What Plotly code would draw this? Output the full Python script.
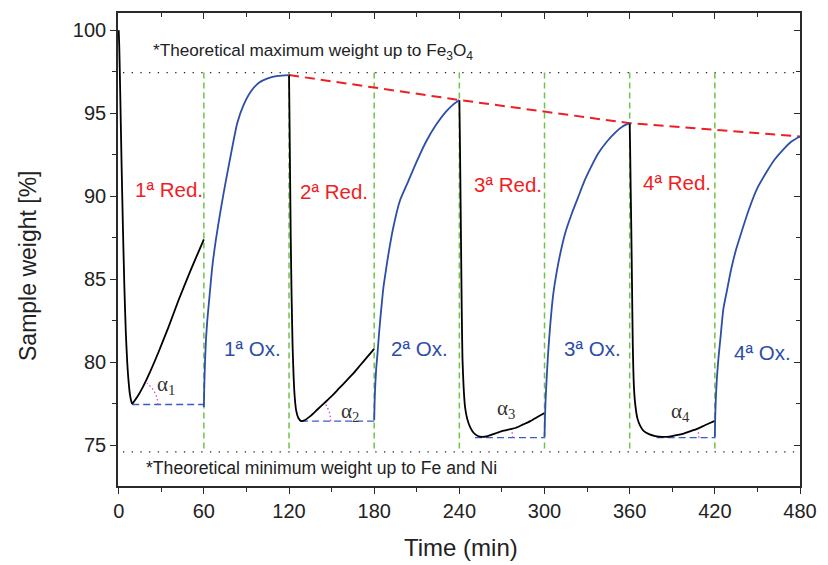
import numpy as np
import plotly.graph_objects as go

# ---------------- cycle data: time (min) vs sample weight (%) ----------------
red1_t = [0, 0.4, 1.0, 2.0, 3.0, 4.0, 5.0, 6.0, 7.0, 8.0, 9.0, 9.5, 10.5, 13, 17, 22, 28, 35, 42, 50, 55, 60]
red1_w = [100, 99.0, 96.5, 92.0, 88.0, 84.5, 81.8, 80.0, 78.8, 78.0, 77.6, 77.5, 77.6, 77.9, 78.5, 79.4, 80.6, 82.1, 83.7, 85.4, 86.4, 87.4]

ox1_t = [60, 60.3, 60.8, 61.5, 62.5, 64, 66, 68.5, 71.5, 75, 79, 83.5, 88, 93, 99, 105, 112, 120]
ox1_w = [77.3, 78.6, 80.0, 81.4, 82.6, 84.0, 85.8, 87.4, 89.0, 90.7, 92.5, 94.4, 95.5, 96.3, 96.85, 97.1, 97.25, 97.3]

red2_t = [120, 120.3, 120.7, 121.2, 121.8, 122.5, 123.2, 124, 125, 126.5, 128.5, 131, 135, 140, 145, 150, 155, 160, 165, 170, 175, 180]
red2_w = [97.3, 95.0, 91.5, 87.5, 84.0, 81.0, 79.2, 77.9, 77.1, 76.65, 76.45, 76.5, 76.75, 77.15, 77.55, 77.95, 78.4, 78.85, 79.3, 79.8, 80.3, 80.8]

ox2_t = [180, 180.3, 180.7, 181.4, 182.3, 183.2, 184.2, 185.3, 186.5, 188.2, 190, 193.4, 198, 204, 210, 216.6, 223.6, 230.6, 236, 240]
ox2_w = [76.5, 77.6, 78.5, 79.6, 80.5, 81.5, 82.5, 83.5, 84.5, 85.5, 86.5, 88.1, 89.7, 90.9, 92.1, 93.3, 94.3, 95.1, 95.55, 95.8]

red3_t = [240, 240.3, 240.7, 241.2, 241.7, 242.2, 243, 244, 245.5, 247.5, 250, 253, 256, 260, 265, 270, 275, 280, 285, 290, 295, 300]
red3_w = [95.8, 94.0, 91.0, 87.0, 83.0, 80.2, 78.5, 77.3, 76.6, 76.1, 75.75, 75.55, 75.5, 75.55, 75.7, 75.85, 75.95, 76.05, 76.25, 76.45, 76.7, 76.94]

ox3_t = [300, 300.3, 300.8, 301.5, 302.5, 304, 306, 308.5, 311.5, 315, 319, 323.5, 328, 333, 338, 344, 350, 355, 360]
ox3_w = [75.5, 76.6, 77.8, 79.0, 80.5, 82.2, 84.0, 85.4, 86.7, 87.9, 88.9, 89.9, 90.9, 91.8, 92.6, 93.3, 93.85, 94.2, 94.4]

red4_t = [360, 360.3, 360.7, 361.1, 361.6, 362.2, 363, 364, 365.5, 367.5, 370, 374, 378, 383, 388, 393, 398, 403, 408, 413, 417, 420]
red4_w = [94.4, 93.0, 90.5, 88.3, 85.0, 81.0, 78.5, 77.4, 76.6, 76.15, 75.85, 75.65, 75.55, 75.5, 75.52, 75.6, 75.7, 75.85, 76.0, 76.2, 76.35, 76.46]

ox4_t = [420, 420.3, 420.8, 421.5, 422.5, 424, 426, 428.5, 431.5, 435, 439, 444, 450, 456, 462, 468, 474, 480]
ox4_w = [75.5, 76.8, 78.0, 79.1, 80.2, 81.5, 83.2, 84.3, 85.6, 86.8, 87.9, 89.2, 90.5, 91.4, 92.2, 92.8, 93.3, 93.6]

# oxidation end points (degradation trend)
peak_t = [120, 240, 360, 480]
peak_w = [97.3, 95.8, 94.4, 93.6]

# switching times between reducing / oxidising gas
switch_t = [60, 120, 180, 240, 300, 360, 420]

# theoretical limits
fe3o4_level = 97.45
fe_ni_level = 74.6

# reference baselines used for the slope angles alpha_n
base_start_t = [9.5, 128.5, 251, 379]
base_end_t = [60, 180, 300, 420]
base_w = [77.45, 76.45, 75.45, 75.45]
arc_center_t = [9.5, 128.5, 256, 383]
arc_radius_px = [26, 30, 31, 37]
arc_angle_deg = [55, 37, 18, 11]

red_labels = ["1ª Red.", "2ª Red.", "3ª Red.", "4ª Red."]
ox_labels = ["1ª Ox.", "2ª Ox.", "3ª Ox.", "4ª Ox."]
alpha_labels = ["α<sub>1</sub>", "α<sub>2</sub>", "α<sub>3</sub>", "α<sub>4</sub>"]

x_ticks = [0, 60, 120, 180, 240, 300, 360, 420, 480]
y_ticks = [75, 80, 85, 90, 95, 100]

# ---------------- layout geometry ----------------
W, H = 828, 565
M_L, M_R, M_T, M_B = 118, 20, 11, 79
X_RANGE = [-0.5, 480]
Y_RANGE = [72.54, 101.04]
PW, PH = W - M_L - M_R, H - M_T - M_B
px_per_min = PW / (X_RANGE[1] - X_RANGE[0])
px_per_pct = PH / (Y_RANGE[1] - Y_RANGE[0])

BLACK = "#000000"
BLUE = "rgb(44,78,168)"
RED = "rgb(240,30,36)"
GREEN = "rgb(110,196,70)"
MAGENTA = "rgb(214,70,196)"
AXIS = "#2a2a2a"
TXT = "#222222"
SANS = "Liberation Sans, Arial, sans-serif"
SERIF = "Liberation Serif, Times New Roman, serif"

fig = go.Figure()


def line(t, w, color, width, dash="solid", shape="linear"):
    fig.add_trace(go.Scatter(x=t, y=w, mode="lines", hoverinfo="skip",
                             line=dict(color=color, width=width, dash=dash,
                                       shape=shape, smoothing=0.6)))


# theoretical limit lines (dotted)
line([3, 480], [fe3o4_level, fe3o4_level], TXT, 1.3, "1.3px,7.4px")
line([3, 480], [fe_ni_level, fe_ni_level], TXT, 1.3, "1.3px,7.4px")

# gas switching markers
for t in switch_t:
    line([t, t], [fe3o4_level, fe_ni_level], GREEN, 1.5, "6px,4px")

# baselines and angle arcs
for t0, t1, wb in zip(base_start_t, base_end_t, base_w):
    line([t0, t1], [wb, wb], "rgb(60,90,200)", 1.3, "7px,4px")
for ct, wb, r, ang in zip(arc_center_t, base_w, arc_radius_px, arc_angle_deg):
    th = np.radians(np.linspace(0, ang, 20))
    line(ct + r * np.cos(th) / px_per_min, wb + r * np.sin(th) / px_per_pct,
         MAGENTA, 1.3, "1.5px,2.5px")

# degradation trend
line(peak_t, peak_w, RED, 2, "10px,6px")

# reduction (black) and oxidation (blue) curves
for t, w in [(red1_t, red1_w), (red2_t, red2_w), (red3_t, red3_w), (red4_t, red4_w)]:
    line(t, w, BLACK, 1.8, shape="spline")
for t, w in [(ox1_t, ox1_w), (ox2_t, ox2_w), (ox3_t, ox3_w), (ox4_t, ox4_w)]:
    line(t, w, BLUE, 1.8, shape="spline")

# invisible trace so the mirrored tick axes are rendered
fig.add_trace(go.Scatter(x=[None], y=[None], xaxis="x2", yaxis="y2",
                         showlegend=False, hoverinfo="skip"))

ann = []
red_label_pos = [(35.2, 90.4), (151.5, 90.3), (274.5, 90.7), (393.5, 90.8)]
ox_label_pos = [(94.3, 80.8), (212, 80.8), (333.5, 80.8), (453.9, 80.6)]
alpha_label_pos = [(33, 78.6), (163, 77.0), (273, 77.2), (396, 77.0)]
for txt, (x, y) in zip(red_labels, red_label_pos):
    ann.append(dict(x=x, y=y, text=txt, showarrow=False,
                    font=dict(family=SANS, size=20.5, color=RED)))
for txt, (x, y) in zip(ox_labels, ox_label_pos):
    ann.append(dict(x=x, y=y, text=txt, showarrow=False,
                    font=dict(family=SANS, size=20.5, color=BLUE)))
for txt, (x, y) in zip(alpha_labels, alpha_label_pos):
    ann.append(dict(x=x, y=y, text=txt, showarrow=False,
                    font=dict(family=SERIF, size=21, color="#333333")))
ann.append(dict(x=22.7, y=98.7, xanchor="left", yanchor="middle", showarrow=False,
                text="*Theoretical maximum weight up to Fe<sub>3</sub>O<sub>4</sub>",
                font=dict(family=SANS, size=17.2, color=TXT)))
ann.append(dict(x=17.8, y=73.6, xanchor="left", yanchor="middle", showarrow=False,
                text="*Theoretical minimum weight up to Fe and Ni",
                font=dict(family=SANS, size=17.6, color=TXT)))
# axis titles
ann.append(dict(xref="paper", yref="paper", x=(465 - M_L) / PW,
                y=-(548 - (H - M_B)) / PH, xanchor="center", yanchor="middle",
                text="Time (min)", showarrow=False,
                font=dict(family=SANS, size=24, color=TXT)))
ann.append(dict(xref="paper", yref="paper", x=-(M_L - 27) / PW,
                y=((H - M_B) - 265) / PH, xanchor="center", yanchor="middle",
                text="Sample weight [%]", textangle=-90, showarrow=False,
                font=dict(family=SANS, size=23, color=TXT)))

common_x = dict(range=X_RANGE, tickvals=x_ticks, showgrid=False, zeroline=False,
                minor=dict(dtick=30, tick0=0, ticklen=4, tickcolor=AXIS, ticks="outside"))
common_y = dict(range=Y_RANGE, tickvals=y_ticks, showgrid=False, zeroline=False,
                minor=dict(dtick=2.5, tick0=75, ticklen=4, tickcolor=AXIS, ticks="outside"))

fig.update_layout(
    width=W, height=H, margin=dict(l=M_L, r=M_R, t=M_T, b=M_B),
    paper_bgcolor="white", plot_bgcolor="white", showlegend=False,
    annotations=ann,
    xaxis=dict(**common_x, showline=True, linecolor=AXIS, linewidth=1.6, mirror=True,
               ticks="outside", ticklen=6, tickwidth=1.4, tickcolor=AXIS,
               tickfont=dict(family=SANS, size=20, color=TXT)),
    yaxis=dict(**common_y, showline=True, linecolor=AXIS, linewidth=1.6, mirror=True,
               ticks="outside", ticklen=6, tickwidth=1.4, tickcolor=AXIS,
               tickfont=dict(family=SANS, size=20, color=TXT)),
    xaxis2=dict(range=X_RANGE, tickvals=x_ticks, overlaying="x", side="top", anchor="y2",
                showgrid=False, zeroline=False, showline=False, showticklabels=False,
                ticks="inside", ticklen=6, tickwidth=1.2, tickcolor=AXIS,
                minor=dict(dtick=30, tick0=0, ticklen=4, ticks="inside", tickcolor=AXIS)),
    yaxis2=dict(range=Y_RANGE, tickvals=y_ticks, overlaying="y", side="right", anchor="x2",
                showgrid=False, zeroline=False, showline=False, showticklabels=False,
                ticks="inside", ticklen=6, tickwidth=1.2, tickcolor=AXIS,
                minor=dict(dtick=2.5, tick0=75, ticklen=4, ticks="inside", tickcolor=AXIS)),
)

fig.write_html("out.html")
